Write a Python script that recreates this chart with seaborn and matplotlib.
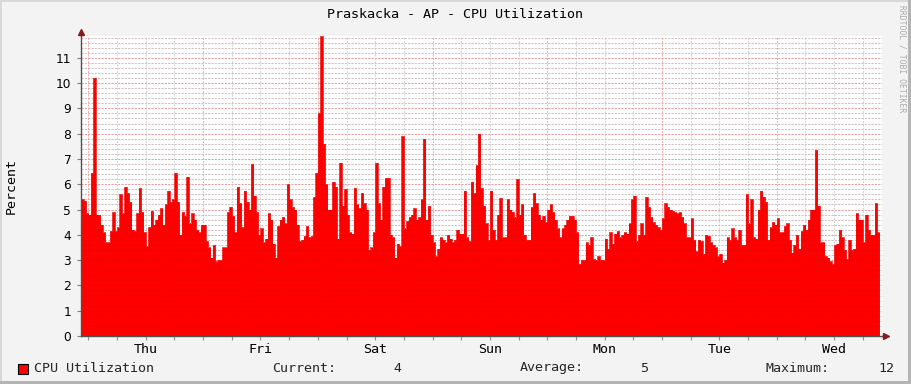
import numpy as np
import pandas as pd
import matplotlib
matplotlib.use("Agg")
import matplotlib.pyplot as plt
import seaborn as sns
from matplotlib.patches import Rectangle

# ---------------- data (percent, 30-minute samples) ----------------
cpu_wed_thu = [5.4, 5.35, 4.85, 4.8, 6.45, 10.2, 4.8, 4.8, 4.4, 4.1,
               3.7, 3.7, 4.15, 4.9, 4.15, 4.3, 5.6, 4.85, 5.9, 5.65,
               5.3, 4.2, 4.15, 4.85, 5.85, 4.9, 4.1, 3.55, 4.3, 4.95,
               4.4, 4.6, 4.8, 5.05, 4.4, 5.2, 5.75, 5.3, 5.4, 6.45,
               5.3, 4.0, 4.9, 4.75, 6.3, 4.45, 4.85, 4.6, 4.2, 4.1,
               4.4, 4.4, 3.75, 3.5, 3.1, 3.6, 2.95, 3.0, 3.0, 3.5,
               3.5, 4.9, 5.1, 4.75, 4.1, 5.9, 5.25]
cpu_fri = [4.3, 5.75, 5.3, 5.0, 6.8, 5.55, 4.9, 4.0, 4.25, 3.7,
           3.85, 4.85, 4.6, 3.65, 3.1, 4.35, 4.6, 4.7, 4.45, 6.0,
           5.4, 5.1, 5.0, 4.4, 3.75, 3.8, 3.95, 4.35, 3.9, 3.95,
           5.5, 6.45, 8.8, 11.85, 7.6, 6.0, 5.0, 5.0, 6.1,
           5.9, 3.85, 6.85, 5.15, 5.8, 4.8, 4.1, 4.05, 5.85, 5.2,
           5.05, 5.65, 5.25, 5.0, 3.4, 3.5, 4.1, 6.85, 5.25, 4.6,
           5.9, 6.25, 6.25, 4.0, 3.9, 3.1, 3.65, 3.55]
cpu_sat_sun = [7.9, 4.25, 4.55, 4.7, 4.8, 5.05, 4.6, 4.7, 5.4, 7.8,
               4.6, 5.15, 4.0, 3.7, 3.15, 3.45, 3.9, 3.8, 3.7, 4.0,
               3.85, 3.7, 3.8, 4.2, 4.05, 4.05, 5.75, 3.9, 3.75, 6.1,
               5.65, 6.75, 8.0, 5.85, 5.15, 4.45, 3.8, 5.75, 4.2, 3.8,
               4.8, 5.45, 3.9, 3.9, 5.4, 5.0, 4.9, 4.7, 6.2, 4.8,
               5.2, 4.0, 3.8, 3.8, 5.1, 5.65, 5.25, 4.8, 4.6, 4.75,
               4.5, 5.0, 5.2, 4.9, 4.6, 4.25, 3.9]
cpu_mon_tue = [4.25, 4.4, 4.6, 4.75, 4.75, 4.6, 4.1, 2.85, 3.0, 3.0,
               3.7, 3.6, 3.9, 3.05, 3.0, 3.15, 3.0, 3.0, 3.85, 3.45,
               4.1, 3.65, 4.05, 4.15, 3.9, 4.0, 4.1, 4.05, 4.45, 5.4,
               5.55, 3.75, 4.0, 4.45, 4.0, 5.5, 5.1, 4.7, 4.5, 4.4,
               4.3, 4.2, 4.65, 5.25, 5.1, 5.0, 4.95, 4.9, 4.85, 4.9,
               4.7, 4.45, 3.9, 3.9, 4.65, 3.8, 3.35, 3.8, 3.75, 3.25,
               4.0, 3.95, 3.7, 3.6, 3.5, 3.15, 3.25]
cpu_tue_wed = [2.9, 3.0, 3.9, 3.8, 4.25, 3.9, 3.8, 4.2, 3.6, 3.6,
               5.6, 4.45, 5.4, 3.9, 3.85, 5.0, 5.75, 5.5, 5.3, 3.8,
               4.3, 4.5, 4.4, 4.65, 4.1, 4.1, 4.35, 4.45, 3.8, 3.3,
               3.6, 4.0, 3.45, 4.15, 4.4, 4.2, 4.6, 5.0, 5.0, 7.35,
               5.15, 3.7, 3.7, 3.15, 3.1, 2.95, 2.85, 3.6, 3.65, 4.2,
               3.9, 3.4, 3.05, 3.8, 3.4, 3.45, 4.85, 4.6, 4.6, 3.7,
               4.8, 4.2, 4.0, 4.0, 5.25, 4.1]

START_HOUR = -1.5      # first sample, hours relative to Thursday 00:00
STEP_HOURS = 0.5
X_MIN, X_MAX = -1.55, 166.03
Y_MAX = 11.86

day_labels = ["Thu", "Fri", "Sat", "Sun", "Mon", "Tue", "Wed"]
title = "Praskacka - AP - CPU Utilization"
y_title = "Percent"
series_name = "CPU Utilization"
stat_names = ["Current:", "Average:", "Maximum:"]
stat_values = ["4", "5", "12"]
watermark = "RRDTOOL / TOBI OETIKER"

cpu = np.array(cpu_wed_thu + cpu_fri + cpu_sat_sun + cpu_mon_tue + cpu_tue_wed)
hours = START_HOUR + STEP_HOURS * np.arange(len(cpu) + 1)
df = pd.DataFrame({"hours": hours, "cpu": np.append(cpu, cpu[-1])})

# ---------------- style ----------------
sns.set_theme(style="white")
plt.rcParams["font.family"] = ["DejaVu Sans Mono", "DejaVu Sans"]

W, H = 911, 384
BG = "#F3F3F3"
fig = plt.figure(figsize=(W / 100, H / 100), dpi=100, facecolor=BG)


def fx(px):
    return px / W


def fy(py):
    return 1 - py / H


ax = fig.add_axes([fx(81), fy(336), (882 - 81) / W, (336 - 36) / H])
ax.set_facecolor("white")

ax.fill_between(df["hours"], 0, df["cpu"], step="post", color="#FF0000",
                lw=0, zorder=2)
sns.lineplot(data=df, x="hours", y="cpu", drawstyle="steps-post",
             color="#F40000", lw=0.5, ax=ax, zorder=2.5)

ax.set_xlim(X_MIN, X_MAX)
ax.set_ylim(0, Y_MAX)
ax.set_xlabel("")
ax.set_ylabel("")

# grid: light dotted lines, plus a very faint trace over the red area
minor_c = "#D6D6D6"
major_c = "#F2B0B0"
dash = (0, (2, 1.2))
over_c = (0.5, 0.0, 0.0, 0.10)
for k in range(1, int(Y_MAX * 5) + 1):
    yv = k * 0.2
    is_major = abs(yv - round(yv)) < 1e-6
    ax.axhline(yv, color=major_c if is_major else minor_c, lw=0.75, ls=dash,
               zorder=1)
    ax.axhline(yv, color=over_c, lw=0.75, ls=dash, zorder=3)
for h in range(0, int(X_MAX) + 1, 6):
    is_major = h % 24 == 0
    ax.axvline(h, color=major_c if is_major else minor_c, lw=0.75, ls=dash,
               zorder=1)

# ticks
ax.set_yticks(range(12))
ax.set_yticklabels([str(i) for i in range(12)], fontfamily="DejaVu Sans",
                   fontsize=8.8, color="black")
ax.set_xticks([12 + 24 * k for k in range(len(day_labels))])
ax.set_xticklabels(day_labels, fontsize=9.6, color="black")
ax.set_xticks(list(range(0, int(X_MAX) + 1, 6)), minor=True)
ax.tick_params(axis="y", left=True, length=3, width=0.8, color="#808080",
               pad=4, direction="out")
ax.tick_params(axis="x", which="both", bottom=True, length=3, width=0.8,
               color="#909090", pad=2, direction="out")

for s in ["top", "right"]:
    ax.spines[s].set_visible(False)
for s in ["left", "bottom"]:
    ax.spines[s].set_color("#505050")
    ax.spines[s].set_linewidth(1.0)
    ax.spines[s].set_zorder(4)

# axis arrows
arrow_c = "#8B1A1A"
ax.plot([0, 0], [1, 1.012], transform=ax.transAxes, color="#505050", lw=1,
        clip_on=False, zorder=5)
ax.plot([0], [1.012], marker="^", markersize=4.5, color=arrow_c,
        transform=ax.transAxes, clip_on=False, zorder=5)
ax.plot([1, 1.003], [0, 0], transform=ax.transAxes, color="#505050", lw=1,
        clip_on=False, zorder=5)
ax.plot([1.0045], [0], marker=">", markersize=4.5, color=arrow_c,
        transform=ax.transAxes, clip_on=False, zorder=5)

# texts
fig.text(fx(455), fy(14), title, ha="center", va="center", fontsize=9.6,
         color="black")
fig.text(fx(11), fy(186), y_title, ha="center", va="center", rotation=90,
         fontsize=9.6, color="black")
fig.text(fx(902), fy(5), watermark, ha="center", va="top", rotation=270,
         fontsize=5.8, color="#ABABAB")

# legend
fig.add_artist(Rectangle((fx(18), fy(374)), 10 / W, 10 / H,
                         transform=fig.transFigure, facecolor="#FF0000",
                         edgecolor="black", lw=0.8))
ly = fy(368)
fig.text(fx(34), ly, series_name, ha="left", va="center", fontsize=9.6)
fig.text(fx(272), ly, stat_names[0], ha="left", va="center", fontsize=9.6)
fig.text(fx(401), ly, stat_values[0], ha="right", va="center", fontsize=9.6)
fig.text(fx(520), ly, stat_names[1], ha="left", va="center", fontsize=9.6)
fig.text(fx(648), ly, stat_values[1], ha="right", va="center", fontsize=9.6)
fig.text(fx(765), ly, stat_names[2], ha="left", va="center", fontsize=9.6)
fig.text(fx(894), ly, stat_values[2], ha="right", va="center", fontsize=9.6)

# frame (3-D border)
fig.add_artist(Rectangle((0, 0), fx(2), 1, transform=fig.transFigure,
                         facecolor="#D8D8D8", lw=0))
fig.add_artist(Rectangle((0, fy(2)), 1, 2 / H, transform=fig.transFigure,
                         facecolor="#D8D8D8", lw=0))
fig.add_artist(Rectangle((fx(908), 0), 3 / W, 1, transform=fig.transFigure,
                         facecolor="#B4B4B4", lw=0))
fig.add_artist(Rectangle((0, 0), 1, 3 / H, transform=fig.transFigure,
                         facecolor="#B4B4B4", lw=0))

fig.savefig("out.png", dpi=100, facecolor=BG)
